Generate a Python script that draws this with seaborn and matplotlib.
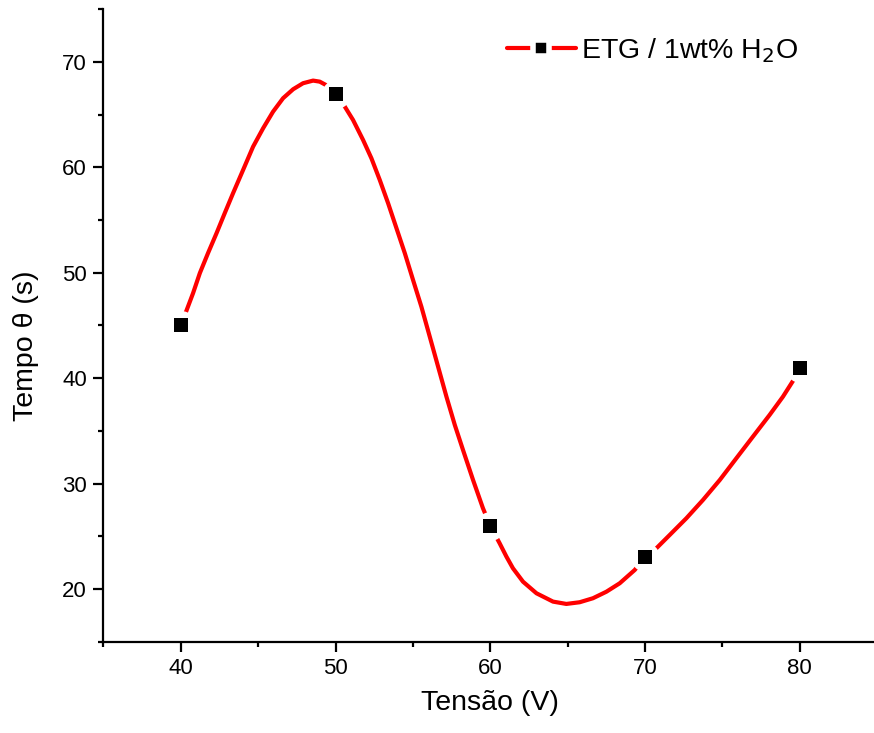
import numpy as np
import matplotlib
matplotlib.use('Agg')
import matplotlib.pyplot as plt
import seaborn as sns
from matplotlib.lines import Line2D
from matplotlib.ticker import MultipleLocator

# measured points
tensao = [40, 50, 60, 70, 80]
tempo = [45, 67, 26, 23, 41]

# smoothed curve
curve_x = [40.0, 40.26, 40.79, 41.23, 41.76, 42.31, 42.84, 43.38, 44.03, 44.67, 45.32,
           45.96, 46.61, 47.26, 47.90, 48.55, 48.98, 49.37, 50.0,
           50.60, 51.13, 51.78, 52.32, 52.86, 53.40, 53.94, 54.48, 55.01, 55.55,
           56.09, 56.63, 57.17, 57.71, 58.24, 58.89, 59.53, 60.0,
           60.61, 61.05, 61.47, 62.12, 62.99, 64.06, 64.92, 65.78, 66.64, 67.51,
           68.37, 69.34, 70.0,
           70.63, 71.60, 72.68, 73.75, 74.84, 75.91, 76.98, 78.06, 78.92, 79.68, 80.0]
curve_y = [45.0, 46.00, 48.06, 49.97, 51.87, 53.76, 55.66, 57.56, 59.77, 61.96, 63.71,
           65.28, 66.56, 67.41, 67.98, 68.23, 68.13, 67.82, 67.0,
           65.76, 64.50, 62.60, 60.86, 58.80, 56.59, 54.22, 51.85, 49.32, 46.78,
           43.94, 41.09, 38.24, 35.56, 33.19, 30.34, 27.66, 26.0,
           24.33, 23.06, 21.96, 20.69, 19.59, 18.80, 18.58, 18.74, 19.12, 19.74,
           20.54, 21.80, 23.0,
           23.70, 25.12, 26.71, 28.44, 30.34, 32.40, 34.45, 36.51, 38.24, 39.99, 41.0]

sns.set_style('ticks')
plt.rcParams['font.family'] = ['Liberation Sans', 'DejaVu Sans']
plt.rcParams['text.color'] = 'black'
plt.rcParams['axes.labelcolor'] = 'black'
plt.rcParams['xtick.color'] = 'black'
plt.rcParams['ytick.color'] = 'black'

fig = plt.figure(figsize=(8.74, 7.33), dpi=100)
ax = fig.add_axes([0.1184, 0.1246, 0.885, 0.8628])

sns.lineplot(x=curve_x, y=curve_y, sort=False, color='red', linewidth=3,
             solid_joinstyle='round', solid_capstyle='round', ax=ax)
# white discs make the gaps in the line around each point
sns.scatterplot(x=tensao, y=tempo, marker='o', s=430, color='white', linewidth=0, ax=ax, zorder=3)
sns.scatterplot(x=tensao, y=tempo, marker='s', s=100, color='black', linewidth=0, ax=ax, zorder=4)

ax.set_xlim(35, 85)
ax.set_ylim(15, 75)
ax.xaxis.set_major_locator(MultipleLocator(10))
ax.xaxis.set_minor_locator(MultipleLocator(5))
ax.yaxis.set_major_locator(MultipleLocator(10))
ax.yaxis.set_minor_locator(MultipleLocator(5))
ax.set_xticks([40, 50, 60, 70, 80])
ax.set_yticks([20, 30, 40, 50, 60, 70])

for s in ['top', 'right']:
    ax.spines[s].set_visible(False)
for s in ['left', 'bottom']:
    ax.spines[s].set_linewidth(1.6)
    ax.spines[s].set_color('black')

ax.tick_params(which='major', direction='out', length=7, width=1.6, labelsize=16, pad=5)
ax.tick_params(which='minor', direction='out', length=3.5, width=1.6)

ax.set_xlabel('Tensão (V)', fontsize=20.5, labelpad=8)
ax.set_ylabel('Tempo θ (s)', fontsize=20.5)
ax.yaxis.set_label_coords(-0.084, 0.468)

handle = Line2D([], [], color='red', linewidth=3, marker='s', markersize=11,
                markerfacecolor='black', markeredgecolor='white', markeredgewidth=4)
ax.legend([handle], ['ETG / 1wt% H$_2$O'], loc='center left', frameon=False,
          fontsize=20.5, handlelength=2.4, handletextpad=0.2,
          borderpad=0, borderaxespad=0, bbox_to_anchor=(0.522, 0.935))

fig.savefig('out.png', dpi=100)
